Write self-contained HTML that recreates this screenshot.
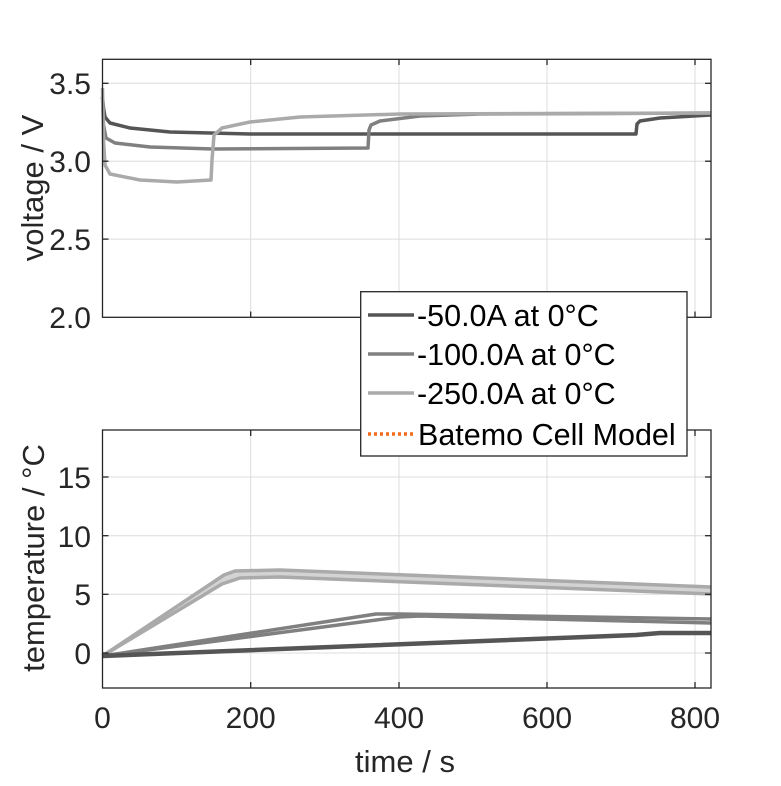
<!DOCTYPE html>
<html><head><meta charset="utf-8"><style>
html,body{margin:0;padding:0;background:#fff;}
svg text{font-family:"Liberation Sans",Arial,sans-serif;fill:#262626;}
</style></head><body>
<svg width="781" height="781" viewBox="0 0 781 781" xmlns="http://www.w3.org/2000/svg">
<rect width="781" height="781" fill="#fff"/>
<g stroke="#dcdcdc" stroke-width="1">
<line x1="250.7" y1="59.3" x2="250.7" y2="317.3"/><line x1="399" y1="59.3" x2="399" y2="317.3"/>
<line x1="547" y1="59.3" x2="547" y2="317.3"/><line x1="695" y1="59.3" x2="695" y2="317.3"/>
<line x1="102.5" y1="83.3" x2="711" y2="83.3"/><line x1="102.5" y1="161.2" x2="711" y2="161.2"/>
<line x1="102.5" y1="239.1" x2="711" y2="239.1"/>
</g>
<g stroke="#dcdcdc" stroke-width="1">
<line x1="250.7" y1="430" x2="250.7" y2="688"/><line x1="399" y1="430" x2="399" y2="688"/>
<line x1="547" y1="430" x2="547" y2="688"/><line x1="695" y1="430" x2="695" y2="688"/>
<line x1="102.5" y1="477" x2="711" y2="477"/><line x1="102.5" y1="535.7" x2="711" y2="535.7"/>
<line x1="102.5" y1="594.3" x2="711" y2="594.3"/><line x1="102.5" y1="653" x2="711" y2="653"/>
</g>
<g fill="none" stroke-width="3.5" stroke-linejoin="round">
<polyline stroke="#555" points="102.5,97 103.5,108 105,117 110,123 130,128 170,132 250,134 636,134 637,124 640,121 660,118 711,115"/>
<polyline stroke="#808080" points="102.5,97 103.5,125 106,138 115,143 150,147 213,149 368,148 369,130 371,125 380,121 420,116 480,114 711,113"/>
<polyline stroke="#aaa" points="102.5,88 103.5,140 105,165 110,174 140,180 177,182 211,180 212,160 214,135 222,128 250,122 300,117 400,114 711,113"/>
</g>
<polygon fill="#d3d3d3" points="102.5,656 224,575 235,571 280,570 711,587 711,594 280,577 240,578 222,584"/>
<g fill="none" stroke-width="3.5" stroke-linejoin="round">
<polyline stroke="#aaa" points="102.5,656 224,575 235,571 280,570 711,587"/>
<polyline stroke="#aaa" points="102.5,656 222,584 240,578 280,577 711,594"/>
<polyline stroke="#808080" points="102.5,656 376,614 400,614 711,619"/>
<polyline stroke="#808080" points="102.5,656 399,617 420,616 711,623"/>
<polyline stroke="#555" stroke-width="4.5" points="102.5,656 636,635 660,633 711,633"/>
</g>
<g fill="none" stroke="#262626" stroke-width="1.3">
<rect x="102.5" y="59.3" width="608.5" height="258"/>
<rect x="102.5" y="430" width="608.5" height="258"/>
</g>
<g stroke="#262626" stroke-width="1.3">
<line x1="250.7" y1="59.3" x2="250.7" y2="65"/><line x1="399" y1="59.3" x2="399" y2="65"/><line x1="547" y1="59.3" x2="547" y2="65"/><line x1="695" y1="59.3" x2="695" y2="65"/>
<line x1="250.7" y1="317.3" x2="250.7" y2="311.5"/><line x1="399" y1="317.3" x2="399" y2="311.5"/><line x1="547" y1="317.3" x2="547" y2="311.5"/><line x1="695" y1="317.3" x2="695" y2="311.5"/>
<line x1="250.7" y1="430" x2="250.7" y2="436"/><line x1="399" y1="430" x2="399" y2="436"/><line x1="547" y1="430" x2="547" y2="436"/><line x1="695" y1="430" x2="695" y2="436"/>
<line x1="250.7" y1="688" x2="250.7" y2="682"/><line x1="399" y1="688" x2="399" y2="682"/><line x1="547" y1="688" x2="547" y2="682"/><line x1="695" y1="688" x2="695" y2="682"/>
<line x1="102.5" y1="83.3" x2="108.5" y2="83.3"/><line x1="102.5" y1="161.2" x2="108.5" y2="161.2"/><line x1="102.5" y1="239.1" x2="108.5" y2="239.1"/>
<line x1="711" y1="83.3" x2="705" y2="83.3"/><line x1="711" y1="161.2" x2="705" y2="161.2"/><line x1="711" y1="239.1" x2="705" y2="239.1"/>
<line x1="102.5" y1="477" x2="108.5" y2="477"/><line x1="102.5" y1="535.7" x2="108.5" y2="535.7"/><line x1="102.5" y1="594.3" x2="108.5" y2="594.3"/><line x1="102.5" y1="653" x2="108.5" y2="653"/>
<line x1="711" y1="477" x2="705" y2="477"/><line x1="711" y1="535.7" x2="705" y2="535.7"/><line x1="711" y1="594.3" x2="705" y2="594.3"/><line x1="711" y1="653" x2="705" y2="653"/>
</g>
<g font-size="30" text-anchor="end">
<text x="91" y="94">3.5</text><text x="91" y="172">3.0</text><text x="91" y="250">2.5</text><text x="91" y="328">2.0</text>
<text x="91" y="488">15</text><text x="91" y="547">10</text><text x="91" y="605">5</text><text x="91" y="664">0</text>
</g>
<g font-size="30" text-anchor="middle">
<text x="102.5" y="728">0</text><text x="250.7" y="728">200</text><text x="399" y="728">400</text><text x="547" y="728">600</text><text x="695" y="728">800</text>
</g>
<g font-size="31" text-anchor="middle">
<text x="405" y="772">time / s</text>
<text transform="translate(43,188) rotate(-90)">voltage / V</text>
<text transform="translate(44,558) rotate(-90)">temperature / °C</text>
</g>
<rect x="360.7" y="291.7" width="326.3" height="164.3" fill="#fff" stroke="#262626" stroke-width="1.3"/>
<g stroke-width="3.5">
<line x1="368" y1="315" x2="414" y2="315" stroke="#555"/>
<line x1="368" y1="354" x2="414" y2="354" stroke="#808080"/>
<line x1="368" y1="393" x2="414" y2="393" stroke="#aaa"/>
<line x1="368" y1="434" x2="414" y2="434" stroke="#f26a1b" stroke-dasharray="3,3"/>
</g>
<g font-size="30.5">
<text x="417" y="326" style="fill:#000">-50.0A at 0°C</text>
<text x="417" y="365" style="fill:#000">-100.0A at 0°C</text>
<text x="417" y="404" style="fill:#000">-250.0A at 0°C</text>
<text x="418" y="445" style="fill:#000">Batemo Cell Model</text>
</g>
</svg>
</body></html>
